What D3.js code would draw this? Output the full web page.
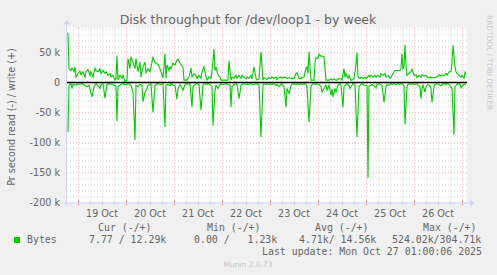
<!DOCTYPE html>
<html>
<head>
<meta charset="utf-8">
<script src="https://cdn.jsdelivr.net/npm/d3@7"></script>
<style>
  body { margin: 0; background: #f0f0f0; }
  text { font-family: "DejaVu Sans", sans-serif; fill: #666; }
  .mono { font-family: "DejaVu Sans Mono", monospace; white-space: pre; }
</style>
</head>
<body>
<div id="graph"></div>
<script>
// time runs in 30 minute steps from the left edge of the graph
var startTime = Date.UTC(2025, 9, 18, 18, 30);
var totalSteps = 400;

// bytes written per second (k), [step, value]
var writeData = [
    [1, 83], [2, 23], [4, 20], [5, 24], [7, 18], [8, 26], [9, 9], [11, 15], [13, 19], [14, 13],
    [16, 18], [18, 9], [19, 18], [21, 22], [23, 12], [24, 18], [26, 9], [28, 24], [29, 20], [31, 18],
    [33, 23], [34, 15], [36, 20], [38, 15], [39, 18], [41, 12], [43, 15], [44, 9], [46, 12], [48, 4],
    [49, 7], [50, 45], [51, 4], [53, 12], [55, 7], [56, 12], [58, 2], [60, 4], [61, 40], [63, 23],
    [64, 43], [66, 34], [68, 23], [69, 40], [71, 18], [73, 34], [74, 9], [76, 26], [78, 34], [79, 15],
    [81, 23], [83, 18], [84, 26], [86, 42], [88, 34], [89, 32], [91, 30], [93, 23], [94, 18], [96, 7],
    [98, 48], [99, 7], [100, 29], [102, 20], [103, 26], [104, 23], [106, 32], [108, 29], [109, 34], [111, 39],
    [113, 32], [114, 30], [116, 26], [117, 4], [119, 4], [120, 4], [122, 9], [124, 24], [125, 9], [127, 15],
    [129, 12], [130, 7], [132, 12], [134, 7], [135, 18], [137, 26], [139, 9], [140, 4], [142, 9], [144, 7],
    [145, 18], [147, 56], [148, 20], [149, 26], [151, 12], [153, 9], [154, 4], [156, 4], [159, 4], [161, 4],
    [162, 36], [164, 4], [165, 9], [167, 7], [169, 12], [170, 7], [172, 12], [174, 7], [175, 12], [177, 9],
    [179, 6], [180, 9], [182, 7], [184, 12], [185, 6], [187, 26], [189, 7], [190, 4], [192, 6], [194, 51],
    [196, 4], [197, 8], [199, 6], [200, 5], [202, 8], [204, 7], [205, 9], [207, 7], [209, 9], [210, 5],
    [212, 8], [214, 9], [215, 7], [217, 9], [219, 8], [220, 7], [222, 8], [224, 7], [225, 6], [227, 7],
    [229, 15], [230, 16], [232, 7], [234, 6], [235, 8], [237, 9], [239, 24], [240, 26], [241, 15], [242, 51],
    [244, 4], [245, 4], [247, 4], [248, 33], [249, 41], [251, 40], [252, 47], [254, 44], [255, 44], [257, 43],
    [259, 4], [260, 4], [262, 4], [264, 6], [265, 4], [267, 6], [269, 4], [270, 4], [272, 7], [274, 6],
    [275, 4], [277, 23], [278, 9], [279, 15], [281, 7], [282, 12], [284, 4], [285, 4], [287, 7], [289, 29],
    [290, 50], [291, 9], [293, 7], [294, 9], [296, 7], [298, 8], [299, 7], [300, 8], [302, 12], [303, 9],
    [304, 12], [306, 9], [308, 12], [309, 9], [311, 12], [313, 9], [314, 15], [316, 12], [318, 15], [319, 9],
    [321, 12], [323, 7], [324, 9], [326, 15], [328, 20], [329, 20], [331, 20], [333, 20], [334, 23], [335, 48],
    [336, 23], [337, 26], [338, 63], [339, 29], [340, 12], [342, 15], [344, 18], [345, 22], [347, 12], [349, 13],
    [350, 8], [352, 12], [354, 9], [355, 13], [357, 11], [359, 12], [360, 9], [362, 8], [364, 9], [365, 8],
    [367, 8], [369, 9], [370, 9], [372, 13], [374, 11], [375, 13], [377, 11], [379, 15], [380, 12], [382, 18],
    [384, 18], [385, 34], [386, 62], [388, 26], [389, 18], [390, 15], [392, 12], [394, 9], [395, 12], [397, 7],
    [398, 17], [399, 13]
];

// bytes read per second (k), drawn below zero, [step, value]
var readData = [
    [1, 82], [2, 4.5], [4, 1.7], [5, 10], [6, 3], [9, 4.5], [10, 2], [12, 3.3], [15, 2], [18, 4.5],
    [20, 7], [22, 4.5], [25, 24], [27, 7], [29, 1.7], [30, 3.3], [33, 10], [34, 3.3], [36, 2], [38, 26],
    [40, 3.3], [42, 2], [45, 3.3], [48, 4.5], [49, 7], [50, 64], [51, 7], [53, 4.5], [55, 2], [58, 3.3],
    [60, 3.3], [61, 2], [64, 4.5], [66, 16], [68, 96], [69, 4.5], [71, 7], [73, 3.3], [75, 4.5], [76, 32],
    [78, 16], [80, 10], [81, 4.5], [83, 3.3], [84, 2], [86, 50], [88, 4.5], [90, 2], [94, 3.3], [96, 2],
    [98, 74], [99, 4.5], [101, 3.3], [103, 5.5], [104, 2], [106, 4.5], [108, 4.5], [110, 28], [111, 10], [113, 3.3],
    [114, 5.5], [116, 13], [118, 3.3], [119, 2], [121, 3.3], [123, 2], [125, 41], [126, 7], [128, 3.3], [130, 2],
    [132, 3.3], [134, 46], [136, 4.5], [137, 2], [139, 3.3], [141, 2], [143, 3.3], [145, 7], [146, 72], [148, 13],
    [149, 4.5], [151, 10], [153, 3.3], [154, 2], [156, 3.3], [159, 2], [161, 3.3], [163, 4.5], [164, 41], [165, 7],
    [167, 3.3], [169, 2], [170, 3.3], [172, 27], [174, 4.5], [175, 3.3], [177, 2], [180, 3.3], [184, 2], [187, 3.3],
    [190, 2], [192, 3.3], [194, 91], [196, 4.5], [197, 2], [199, 3.3], [200, 2], [202, 3.3], [204, 2], [205, 3.3],
    [207, 2], [209, 4.5], [210, 3.3], [212, 7], [214, 3.3], [215, 2], [217, 7], [219, 41], [220, 10], [222, 18],
    [224, 5.5], [225, 3.3], [227, 2], [229, 3.3], [230, 2], [232, 3.3], [234, 2], [235, 3.3], [237, 2], [239, 3.3],
    [240, 7], [242, 66], [244, 7], [245, 3.3], [247, 2], [249, 3.3], [250, 2], [252, 3.3], [254, 7], [255, 16],
    [257, 10], [259, 4.5], [260, 13], [262, 4.5], [264, 21], [265, 10], [266, 24], [268, 10], [269, 16], [271, 4.5],
    [273, 2], [274, 4.5], [276, 41], [277, 7], [279, 3.3], [280, 2], [282, 4.5], [283, 10], [285, 4.5], [286, 2],
    [288, 3.3], [290, 91], [292, 7], [294, 3.3], [295, 2], [297, 4.5], [299, 4.5], [300, 5.5], [301, 159], [302, 5.5],
    [304, 4.5], [305, 3.3], [307, 5.5], [309, 9], [310, 3.3], [312, 2], [314, 3.3], [315, 4.5], [317, 33], [319, 7],
    [320, 3.3], [322, 4.5], [324, 2], [325, 3.3], [327, 2], [329, 3.3], [331, 2], [332, 3.3], [334, 2], [336, 3.3],
    [337, 5.5], [338, 70], [340, 7], [341, 3.3], [343, 2], [345, 3.3], [346, 2], [348, 3.3], [350, 2], [351, 4.5],
    [353, 7], [354, 27], [355, 10], [356, 4.5], [358, 16], [359, 7], [361, 3.3], [363, 5.5], [364, 10], [365, 33],
    [367, 7], [368, 3.3], [370, 2], [372, 3.3], [374, 5.5], [375, 3.3], [377, 2], [379, 3.3], [380, 2], [382, 3.3],
    [384, 7], [385, 10], [387, 87], [388, 7], [390, 3.3], [391, 2], [393, 3.3], [394, 9], [396, 4.5], [397, 3.3],
    [399, 2]
];

var yTicks = [50, 0, -50, -100, -150, -200];

var legendHeaders = ["Cur (-/+)", "Min (-/+)", "Avg (-/+)", "Max (-/+)"];
var legendValues = ["7.77 / 12.29k", "0.00 /   1.23k", "4.71k/ 14.56k", "524.02k/304.71k"];
var legendName = "Bytes";
var lastUpdate = "Last update: Mon Oct 27 01:00:06 2025";

function stepTime(s) {
    return new Date(startTime + s * 30 * 60 * 1000);
}

function drawGraph() {
    var W = 497, H = 275;
    var margin = { top: 27.5, left: 67 },
        width = 400,
        height = 175;

    var svg = d3.select("#graph")
        .append("svg")
        .attr("width", W)
        .attr("height", H);

    svg.append("rect")
        .attr("width", W).attr("height", H)
        .attr("fill", "#f0f0f0");

    var g = svg.append("g")
        .attr("transform", "translate(" + margin.left + "," + margin.top + ")");

    var x = d3.scaleUtc()
        .domain([stepTime(0), stepTime(totalSteps)])
        .range([0, width]);

    var y = d3.scaleLinear()
        .domain([-200, 91.67])
        .range([height, 0]);

    // canvas
    g.append("rect")
        .attr("width", width).attr("height", height)
        .attr("fill", "#fff");

    var dots = "1,2";

    // minor grid
    var minorY = d3.range(-190, 91, 10).filter(v => v % 50 != 0);
    g.selectAll(".ygrid")
        .data(minorY)
        .join("line")
        .attr("x1", 0).attr("x2", width)
        .attr("y1", d => Math.round(y(d)) + 0.5).attr("y2", d => Math.round(y(d)) + 0.5)
        .attr("stroke", "#d2d2d2").attr("stroke-dasharray", dots);

    var sixHours = d3.utcHour.every(6).range(x.domain()[0], x.domain()[1])
        .filter(d => d.getUTCHours() != 0);
    g.selectAll(".xgrid")
        .data(sixHours)
        .join("line")
        .attr("x1", d => Math.round(x(d)) + 0.5).attr("x2", d => Math.round(x(d)) + 0.5)
        .attr("y1", 0).attr("y2", height)
        .attr("stroke", "#d2d2d2").attr("stroke-dasharray", dots);

    // major grid
    var majorY = yTicks.filter(v => v != -200);
    g.selectAll(".ymajor")
        .data(majorY)
        .join("line")
        .attr("x1", 0).attr("x2", width)
        .attr("y1", d => Math.round(y(d)) + 0.5).attr("y2", d => Math.round(y(d)) + 0.5)
        .attr("stroke", "#eeaaaa").attr("stroke-dasharray", dots);

    var days = d3.utcDay.range(x.domain()[0], x.domain()[1]);
    g.selectAll(".xmajor")
        .data(days)
        .join("line")
        .attr("x1", d => Math.round(x(d)) + 0.5).attr("x2", d => Math.round(x(d)) + 0.5)
        .attr("y1", 0).attr("y2", height)
        .attr("stroke", "#eeaaaa").attr("stroke-dasharray", dots);

    // tick marks on the bottom axis
    g.selectAll(".tmin")
        .data(sixHours)
        .join("line")
        .attr("x1", d => Math.round(x(d)) + 0.5).attr("x2", d => Math.round(x(d)) + 0.5)
        .attr("y1", height - 1).attr("y2", height + 2)
        .attr("stroke", "#cccccc");
    g.selectAll(".tmaj")
        .data(days)
        .join("line")
        .attr("x1", d => Math.round(x(d)) + 0.5).attr("x2", d => Math.round(x(d)) + 0.5)
        .attr("y1", height - 2).attr("y2", height + 3)
        .attr("stroke", "#ee8888");

    // axes (light blue with arrows)
    g.append("line")
        .attr("x1", -0.5).attr("x2", -0.5)
        .attr("y1", height + 3).attr("y2", -4)
        .attr("stroke", "#cfd6f8");
    g.append("path")
        .attr("d", "M-4,-3 L-0.5,-8 L3,-3 Z")
        .attr("fill", "#cfd6f8");
    g.append("line")
        .attr("x1", -3).attr("x2", width + 5)
        .attr("y1", height + 0.5).attr("y2", height + 0.5)
        .attr("stroke", "#cfd6f8");
    g.append("path")
        .attr("d", "M" + (width + 3) + "," + (height - 3) + " L" + (width + 8) + "," + (height + 0.5) +
            " L" + (width + 3) + "," + (height + 4) + " Z")
        .attr("fill", "#cfd6f8");

    // data lines
    var line = d3.line()
        .x(d => x(stepTime(d[0])))
        .y(d => y(d[1]));

    g.append("path")
        .datum(readData.map(d => [d[0], -d[1]]))
        .attr("d", line)
        .attr("fill", "none")
        .attr("stroke", "#00cc00")
        .attr("stroke-width", 1.1);

    g.append("path")
        .datum(writeData)
        .attr("d", line)
        .attr("fill", "none")
        .attr("stroke", "#00cc00")
        .attr("stroke-width", 1.1);

    // zero line
    g.append("line")
        .attr("x1", 0).attr("x2", width)
        .attr("y1", y(0)).attr("y2", y(0))
        .attr("stroke", "#000")
        .attr("stroke-width", 1.3);

    // y labels
    g.selectAll(".ylab")
        .data(yTicks)
        .join("text")
        .attr("x", -7)
        .attr("y", d => y(d) + 3.5)
        .attr("text-anchor", "end")
        .attr("font-size", "9.6px")
        .text(d => d == 0 ? "0" : d + " k");

    // x labels at noon, only where noon is inside the graph
    var labelDays = days.filter(d => d3.utcHour.offset(d, 12) < x.domain()[1]);
    g.selectAll(".xlab")
        .data(labelDays)
        .join("text")
        .attr("x", d => x(d3.utcHour.offset(d, 12)))
        .attr("y", height + 14)
        .attr("text-anchor", "middle")
        .attr("font-size", "9.6px")
        .text(d => d3.utcFormat("%-d %b")(d));

    // title
    svg.append("text")
        .attr("x", 248).attr("y", 23.5)
        .attr("text-anchor", "middle")
        .attr("font-size", "12.5px")
        .text("Disk throughput for /dev/loop1 - by week");

    // vertical label
    svg.append("text")
        .attr("transform", "translate(15,117) rotate(-90)")
        .attr("text-anchor", "middle")
        .attr("font-size", "9.6px")
        .text("Pr second read (-) / write (+)");

    svg.append("text")
        .attr("transform", "translate(486.5,15) rotate(90)")
        .attr("font-size", "7.4px")
        .style("fill", "#c8c8c8")
        .text("RRDTOOL / TOBI OETIKER");

    // legend
    var headerX = [98, 207, 315, 423];
    var valueX = [89, 194, 299, 392];
    svg.selectAll(".lh")
        .data(legendHeaders)
        .join("text")
        .attr("class", "mono")
        .attr("x", (d, i) => headerX[i])
        .attr("y", 230.5)
        .attr("font-size", "9.9px")
        .text(d => d);

    svg.selectAll(".lv")
        .data(legendValues)
        .join("text")
        .attr("class", "mono")
        .attr("x", (d, i) => valueX[i])
        .attr("y", 243)
        .attr("font-size", "9.9px")
        .text(d => d);

    svg.append("rect")
        .attr("x", 14).attr("y", 237)
        .attr("width", 6).attr("height", 6)
        .attr("fill", "#00cc00");
    svg.append("text")
        .attr("class", "mono")
        .attr("x", 27).attr("y", 243)
        .attr("font-size", "9.9px")
        .text(legendName);

    svg.append("text")
        .attr("class", "mono")
        .attr("x", 482).attr("y", 255)
        .attr("text-anchor", "end")
        .attr("font-size", "9.9px")
        .text(lastUpdate);

    svg.append("text")
        .attr("x", 248).attr("y", 267)
        .attr("text-anchor", "middle")
        .attr("font-size", "7.5px")
        .style("fill", "#c8c8c8")
        .text("Munin 2.0.73");
}

drawGraph();
</script>
</body>
</html>
